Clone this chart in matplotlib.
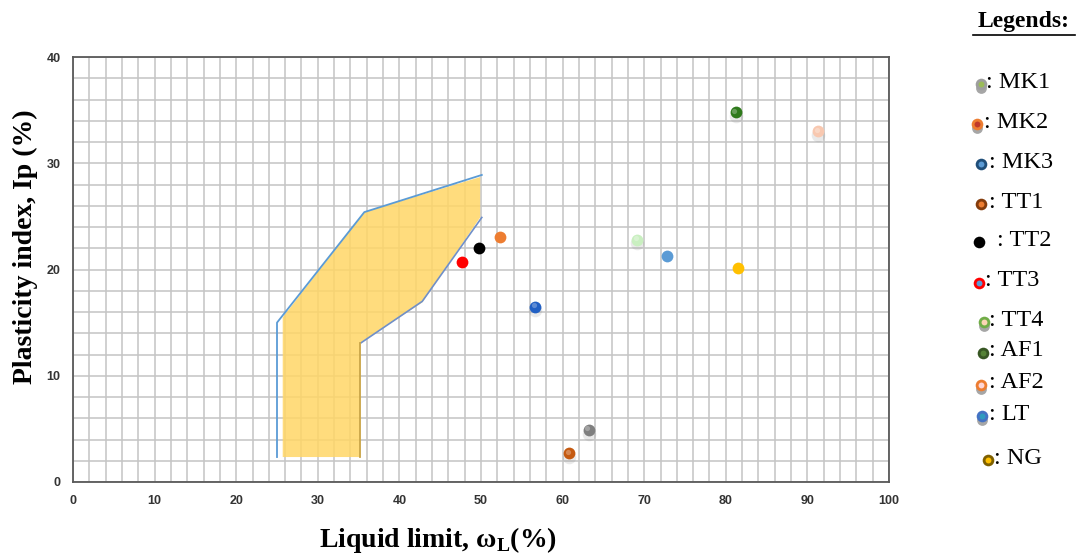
import matplotlib
matplotlib.use("Agg")
import matplotlib.pyplot as plt
from matplotlib.ticker import MultipleLocator

plt.rcParams["mathtext.fontset"] = "custom"
plt.rcParams["mathtext.rm"] = "Liberation Serif:bold"
plt.rcParams["mathtext.bf"] = "Liberation Serif:bold"

# Soil samples: liquid limit (%) and plasticity index (%)
samples = ["MK1", "MK2", "MK3", "TT1", "TT2", "TT3", "TT4", "AF1", "AF2", "LT", "NG"]
liquid_limit = [63.2, 52.3, 56.6, 60.8, 49.8, 47.7, 69.1, 81.2, 91.3, 72.8, 81.5]
plasticity_index = [4.9, 23.1, 16.5, 2.7, 22.0, 20.7, 22.8, 34.8, 33.0, 21.3, 20.1]
point_colors = ["#7f7f7f", "#ed7d31", "#2160c4", "#c55a11", "#000000", "#ff0000",
                "#c9efc0", "#2f7a1c", "#f8c8b0", "#5b9bd5", "#ffc000"]
glossy = [True, False, True, True, False, False, True, True, True, False, False]

# Legend swatches: outer ring colour and inner dot colour
legend_outer = ["#9e9e9e", "#ed7d31", "#1f4e79", "#843c0c", "#000000", "#ff0000",
                "#70ad47", "#375623", "#ed7d31", "#4472c4", "#7f6000"]
legend_inner = ["#9bbb59", "#c0392b", "#5b9bd5", "#ed7d31", "#000000", "#5b9bd5",
                "#fbd5b5", "#548235", "#ffd6d6", "#2e9bbf", "#ffc000"]
legend_shadow = [True, True, False, False, False, False, True, False, True, True, False]

# Zone of suitable clays (upper limit and lower limit of the band)
zone_fill_x = [25.7, 25.7, 35.7, 49.9, 49.9, 42.8, 35.2, 35.2]
zone_fill_y = [2.35, 15.5, 25.4, 28.7, 24.9, 16.9, 13.1, 2.35]
upper_line_x = [25.0, 25.0, 35.7, 50.1]
upper_line_y = [2.35, 15.0, 25.4, 28.9]
lower_line_x = [50.1, 42.8, 35.3]
lower_line_y = [24.9, 17.0, 13.1]
edge_x = [35.2, 35.2]
edge_y = [13.1, 2.35]

x_ticks = list(range(0, 101, 10))
y_ticks = list(range(0, 41, 10))

fig = plt.figure(figsize=(10.76, 5.55), dpi=100)
ax = fig.add_axes([73 / 1076, 73 / 555, 816 / 1076, 425 / 555])

ax.set_xlim(0, 100)
ax.set_ylim(0, 40)
ax.xaxis.set_minor_locator(MultipleLocator(2))
ax.yaxis.set_minor_locator(MultipleLocator(2))
ax.set_xticks(x_ticks)
ax.set_yticks(y_ticks)
ax.grid(which="both", color="#c4c4c4", linewidth=1.1, zorder=0)
ax.set_axisbelow(True)
ax.tick_params(which="both", length=0)
ax.tick_params(axis="x", pad=9)
ax.tick_params(axis="y", pad=9)
for lbl in ax.get_xticklabels() + ax.get_yticklabels():
    lbl.set_fontfamily("Liberation Sans")
    lbl.set_fontweight("bold")
    lbl.set_fontsize(9)
    lbl.set_color("#333333")
for sp in ax.spines.values():
    sp.set_color("#595959")
    sp.set_linewidth(1.3)

ax.fill(zone_fill_x, zone_fill_y, color="#ffd666", alpha=0.85, linewidth=0, zorder=2)
ax.plot(upper_line_x, upper_line_y, color="#5b9bd5", linewidth=1.3, zorder=3)
ax.plot(lower_line_x, lower_line_y, color="#6f8fc9", linewidth=1.2, zorder=3)
ax.plot(edge_x, edge_y, color="#c9a548", linewidth=1.3, zorder=3)

for x, y, c, g in zip(liquid_limit, plasticity_index, point_colors, glossy):
    if g:
        ax.scatter([x], [y - 0.35], s=95, color="#888888", alpha=0.18,
                   linewidths=0, zorder=3)
    ax.scatter([x], [y], s=72, color=c, linewidths=0, zorder=4)
    if g:
        ax.scatter([x - 0.15], [y + 0.15], s=14, color="white", alpha=0.28,
                   linewidths=0, zorder=5)

# Legend panel and axis titles drawn in figure pixel coordinates
lg = fig.add_axes([0, 0, 1, 1], facecolor="none")
lg.set_xlim(0, 1076)
lg.set_ylim(555, 0)
lg.axis("off")

lg.text(438, 540, r"Liquid limit, ω$_{\mathbf{L}}$(%)", fontfamily="Liberation Serif",
        fontweight="bold", fontsize=20, ha="center", va="center")
lg.text(25, 247, "Plasticity index, Ip (%)", fontfamily="Liberation Serif",
        fontweight="bold", fontsize=20, ha="center", va="center", rotation=90)

lg.text(1024, 22, "Legends:", fontfamily="Liberation Serif", fontweight="bold",
        fontsize=17, ha="center", va="center")
lg.plot([973, 1075], [35, 35], color="black", linewidth=1.2)

legend_y = [84, 124, 164, 204, 242, 283, 322, 353, 385, 416, 460]
legend_mx = [981, 977, 981, 981, 979, 979, 984, 983, 981, 982, 988]
legend_tx = [986, 984, 989, 989, 997, 985, 989, 989, 989, 989, 994]
for name, y, mx, tx, oc, ic, sh in zip(samples, legend_y, legend_mx, legend_tx,
                                       legend_outer, legend_inner, legend_shadow):
    if sh:
        lg.scatter([mx], [y + 4], s=60, color="#a6a6a6", linewidths=0, zorder=2)
    lg.scatter([mx], [y], s=70, color=oc, linewidths=0, zorder=3)
    lg.scatter([mx], [y], s=18, color=ic, linewidths=0, zorder=4)
    lg.text(tx, y - 2, ": " + name, fontfamily="Liberation Serif", fontsize=17.5,
            ha="left", va="center")

fig.savefig("out.png", dpi=100)
